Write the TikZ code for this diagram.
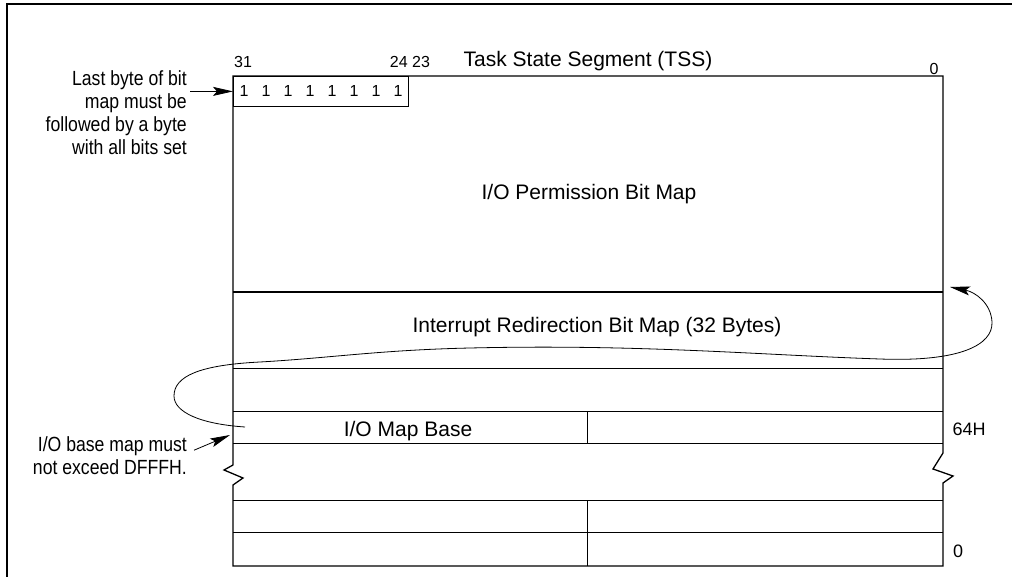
\documentclass[tikz,border=0pt]{standalone}
\usepackage{fontspec}
\setmainfont{Liberation Sans}
\newfontfamily\narrowsans[FakeStretch=0.86]{Liberation Sans}
\usetikzlibrary{arrows.meta}

\begin{document}
\begin{tikzpicture}[x=1pt,y=-1pt]
    % Define styles
    \tikzstyle{label} = [inner sep=0pt, font=\fontsize{21}{23}\selectfont]
    \tikzstyle{bitnum} = [inner sep=0pt, font=\fontsize{16}{18}\selectfont]
    \tikzstyle{offset} = [inner sep=0pt, font=\fontsize{18}{20}\selectfont]
    \tikzstyle{note} = [inner sep=0pt, align=right, font=\narrowsans\fontsize{20.5}{23}\selectfont]
    \tikzstyle{outline} = [line width=1.3pt]
    \tikzstyle{divider} = [line width=0.8pt]
    \tikzstyle{arrow} = [line width=0.8pt, -{Stealth[length=20pt,width=9pt,inset=4pt]}]

    \useasboundingbox (0,0) rectangle (1012,577);

    % Frame
    \draw[line width=1.2pt] (7,577) -- (7,4) -- (1012,4);

    % Last byte of the bit map
    \node[draw, divider, minimum width=175pt, minimum height=30pt, anchor=north west, inner sep=0pt] (bytebox) at (233,76) {};
    \foreach \i in {0,...,7}
        \node[bitnum, anchor=base] (bit\i) at (244+22*\i,97) {1};

    % TSS outline with break marks
    \draw[outline] (233,465) -- (233,76) -- (943,76) -- (943,453) -- (933,469) -- (953,476)
        -- (943,483) -- (943,566) -- (233,566) -- (233,485) -- (243,478) -- (224,470) -- cycle;

    % Rows
    \draw[outline] (233,292) -- (943,292);
    \draw[divider] (233,368) -- (943,368);
    \draw[divider] (233,411) -- (943,411);
    \draw[divider] (233,443) -- (943,443);
    \draw[divider] (233,500) -- (943,500);
    \draw[divider] (233,532) -- (943,532);
    \draw[divider] (587,411) -- (587,443);
    \draw[divider] (587,500) -- (587,566);

    % Texts
    \node[label, anchor=base] (title) at (588,67) {Task State Segment (TSS)};
    \node[bitnum, anchor=base] (bit31) at (243,68) {31};
    \node[bitnum, anchor=base] (bit24) at (410,68) {24 23};
    \node[bitnum, anchor=base] (bit0) at (934,75) {0};
    \node[label, anchor=base] (permmap) at (589,200) {I/O Permission Bit Map};
    \node[label, anchor=base] (intmap) at (597,333) {Interrupt Redirection Bit Map (32 Bytes)};
    \node[label, anchor=base] (mapbase) at (408,436) {I/O Map Base};
    \node[offset, anchor=base] (off64) at (969,435) {64H};
    \node[offset, anchor=base] (off0) at (958,557) {0};

    \node[note, anchor=north east] (lastbyte) at (187,70) {Last byte of bit\\map must be\\followed by a byte\\with all bits set};
    \node[note, anchor=north east] (basemsg) at (187,436) {I/O base map must\\not exceed DFFFH.};

    % Arrows
    \coordinate (basetip) at (230,435);
    \coordinate (curvestart) at (245,427);
    \coordinate (curveend) at (950,287);
    \draw[arrow, shorten <=3pt] (lastbyte.east |- bytebox.west) -- (bytebox.west);
    \draw[arrow] ([xshift=7pt,yshift=5pt]basemsg.east) -- (basetip);
    \draw[arrow] (curvestart) .. controls (200,424) and (174,412) .. (174,396)
        .. controls (174,376) and (200,365) .. (260,362)
        .. controls (330,358) and (380,350) .. (470,348)
        .. controls (640,344) and (760,355) .. (880,359)
        .. controls (960,362) and (993,345) .. (992,322)
        .. controls (991,303) and (975,292) .. (curveend);
\end{tikzpicture}
\end{document}
